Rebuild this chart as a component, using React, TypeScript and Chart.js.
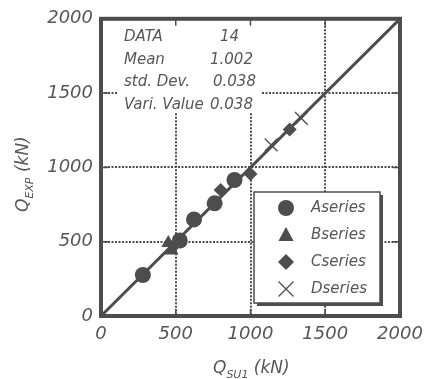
import React, { useEffect, useRef } from "react";
import { Chart, registerables } from "chart.js";

Chart.register(...registerables);

const tickValues = [0, 500, 1000, 1500, 2000];
const seriesNames = ["Aseries", "Bseries", "Cseries", "Dseries"];
const aSeries = [
  { x: 280, y: 276 },
  { x: 527, y: 508 },
  { x: 622, y: 650 },
  { x: 760, y: 758 },
  { x: 893, y: 915 },
];
const bSeries = [
  { x: 450, y: 492 },
  { x: 470, y: 440 },
];
const cSeries = [
  { x: 490, y: 475 },
  { x: 800, y: 848 },
  { x: 1000, y: 955 },
  { x: 1262, y: 1255 },
];
const dSeries = [
  { x: 470, y: 462 },
  { x: 1138, y: 1152 },
  { x: 1340, y: 1330 },
];
const refLine = [
  { x: 0, y: 0 },
  { x: 2000, y: 2000 },
];
const statLabels = ["DATA", "Mean", "std. Dev.", "Vari. Value"];
const statValues = ["14", "1.002", "0.038", "0.038"];

const DARK = "#4d4d4d";
const TEXT = "#575757";
const FONT = "'DejaVu Sans'";

function drawMarker(ctx: CanvasRenderingContext2D, style: string, x: number, y: number, r: number) {
  ctx.save();
  ctx.fillStyle = DARK;
  ctx.strokeStyle = DARK;
  ctx.beginPath();
  if (style === "circle") {
    ctx.arc(x, y, r, 0, Math.PI * 2);
    ctx.fill();
  } else if (style === "triangle") {
    ctx.moveTo(x, y - r);
    ctx.lineTo(x + r * 0.95, y + r * 0.75);
    ctx.lineTo(x - r * 0.95, y + r * 0.75);
    ctx.closePath();
    ctx.fill();
  } else if (style === "rectRot") {
    ctx.moveTo(x, y - r);
    ctx.lineTo(x + r, y);
    ctx.lineTo(x, y + r);
    ctx.lineTo(x - r, y);
    ctx.closePath();
    ctx.fill();
  } else {
    ctx.lineWidth = 1.3;
    ctx.moveTo(x - r, y - r);
    ctx.lineTo(x + r, y + r);
    ctx.moveTo(x + r, y - r);
    ctx.lineTo(x - r, y + r);
    ctx.stroke();
  }
  ctx.restore();
}

const overlayPlugin = {
  id: "overlay",
  beforeDatasetsDraw(chart: any) {
    const ctx: CanvasRenderingContext2D = chart.ctx;
    ctx.save();
    // stats box
    ctx.fillStyle = "#ffffff";
    ctx.fillRect(118, 19, 144, 94);
    ctx.fillStyle = TEXT;
    ctx.font = `oblique 15px ${FONT}`;
    ctx.textBaseline = "middle";
    ctx.textAlign = "left";
    const rowsY = [37, 60, 82, 105];
    const valX = [220, 210, 213, 210];
    statLabels.forEach((l, i) => ctx.fillText(l, 124, rowsY[i]));
    statValues.forEach((v, i) => ctx.fillText(v, valX[i], rowsY[i]));

    // legend box
    ctx.fillStyle = DARK;
    ctx.fillRect(257, 195, 126, 111);
    ctx.fillStyle = "#ffffff";
    ctx.fillRect(254, 192, 126, 111);
    ctx.strokeStyle = DARK;
    ctx.lineWidth = 1.5;
    ctx.strokeRect(254, 192, 126, 111);
    const styles = ["circle", "triangle", "rectRot", "crossRot"];
    const legY = [208, 235, 262, 289];
    const sizes = [8, 8, 8, 7.5];
    ctx.font = `oblique 15px ${FONT}`;
    seriesNames.forEach((n, i) => {
      drawMarker(ctx, styles[i], 286, legY[i], sizes[i]);
      ctx.fillStyle = TEXT;
      ctx.fillText(n, 311, legY[i]);
    });
    ctx.restore();
  },
  afterDraw(chart: any) {
    const ctx: CanvasRenderingContext2D = chart.ctx;
    const a = chart.chartArea;
    const xs = chart.scales.x;
    const ys = chart.scales.y;
    ctx.save();
    // inward ticks
    ctx.strokeStyle = DARK;
    ctx.lineWidth = 1.5;
    [500, 1000, 1500].forEach((v) => {
      const px = xs.getPixelForValue(v);
      const py = ys.getPixelForValue(v);
      ctx.beginPath();
      ctx.moveTo(px, a.top);
      ctx.lineTo(px, a.top + 7);
      ctx.moveTo(px, a.bottom);
      ctx.lineTo(px, a.bottom - 7);
      ctx.moveTo(a.left, py);
      ctx.lineTo(a.left + 7, py);
      ctx.moveTo(a.right, py);
      ctx.lineTo(a.right - 7, py);
      ctx.stroke();
    });
    // frame
    ctx.lineWidth = 4;
    ctx.strokeRect(a.left, a.top, a.right - a.left, a.bottom - a.top);

    // axis titles
    ctx.fillStyle = TEXT;
    ctx.textAlign = "left";
    ctx.textBaseline = "alphabetic";
    const drawTitle = (main: string, sub: string, rest: string) => {
      ctx.font = `oblique 17px ${FONT}`;
      ctx.fillText(main, 0, 0);
      let w = ctx.measureText(main).width;
      ctx.font = `oblique 11px ${FONT}`;
      ctx.fillText(sub, w, 5);
      w += ctx.measureText(sub).width;
      ctx.font = `oblique 17px ${FONT}`;
      ctx.fillText(rest, w, 0);
    };
    ctx.save();
    ctx.translate(213, 373);
    drawTitle("Q", "SU1", " (kN)");
    ctx.restore();
    ctx.save();
    ctx.translate(28, 212);
    ctx.rotate(-Math.PI / 2);
    drawTitle("Q", "EXP", " (kN)");
    ctx.restore();
    ctx.restore();
  },
};

export default function App() {
  const ref = useRef<HTMLCanvasElement>(null);
  useEffect(() => {
    if (!ref.current) return;
    const tickFont = { family: FONT, size: 18, style: "oblique" as any };
    const fmt = (v: any) => String(v);
    const chart = new Chart(ref.current, {
      type: "scatter",
      data: {
        datasets: [
          { label: seriesNames[0], data: aSeries, pointStyle: "circle", pointRadius: 8, backgroundColor: DARK, borderColor: DARK, borderWidth: 0 },
          { label: seriesNames[1], data: bSeries, pointStyle: "triangle", pointRadius: 8, backgroundColor: DARK, borderColor: DARK, borderWidth: 0 },
          { label: seriesNames[2], data: cSeries, pointStyle: "rectRot", pointRadius: 7, backgroundColor: DARK, borderColor: DARK, borderWidth: 0 },
          { label: seriesNames[3], data: dSeries, pointStyle: "crossRot", pointRadius: 9, backgroundColor: DARK, borderColor: DARK, borderWidth: 1.3 },
          { label: "ref", data: refLine, showLine: true, borderColor: DARK, borderWidth: 3, pointRadius: 0 },
        ] as any,
      },
      options: {
        animation: false,
        responsive: false,
        layout: { padding: { top: 15, right: 37, left: 0, bottom: 0 } },
        plugins: { legend: { display: false }, tooltip: { enabled: false } },
        scales: {
          x: {
            type: "linear",
            min: 0,
            max: 2000,
            afterFit: (s: any) => { s.height = 63; },
            afterBuildTicks: (s: any) => { s.ticks = tickValues.map((v) => ({ value: v })); },
            ticks: { font: tickFont, color: TEXT, padding: 8, callback: fmt },
            grid: { color: DARK, lineWidth: 2, drawTicks: false },
            border: { display: false, dash: [2, 1.5] },
          },
          y: {
            type: "linear",
            min: 0,
            max: 2000,
            afterFit: (s: any) => { s.width = 101; },
            afterBuildTicks: (s: any) => { s.ticks = tickValues.map((v) => ({ value: v })); },
            ticks: { font: tickFont, color: TEXT, padding: 8, callback: fmt },
            grid: { color: DARK, lineWidth: 2, drawTicks: false },
            border: { display: false, dash: [2, 1.5] },
          },
        },
      },
      plugins: [overlayPlugin],
    });
    return () => chart.destroy();
  }, []);
  return (
    <div style={{ position: "fixed", left: 0, top: 0, width: 437, height: 379, background: "#fff" }}>
      <canvas ref={ref} width={437} height={379} style={{ width: 437, height: 379 }} />
    </div>
  );
}
